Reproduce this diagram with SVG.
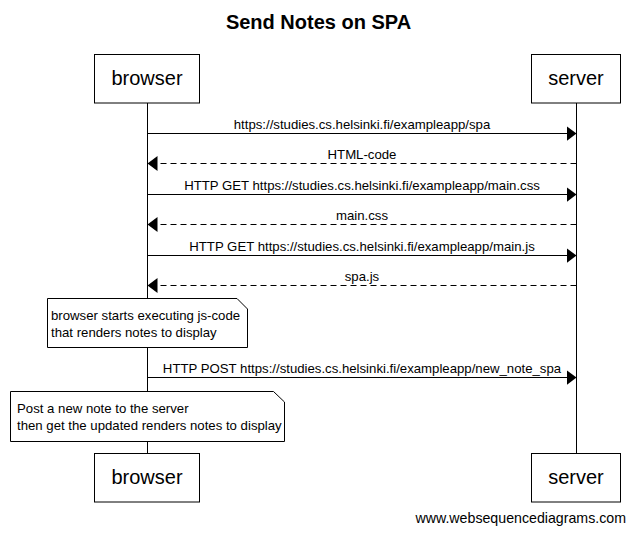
<svg xmlns="http://www.w3.org/2000/svg" width="636" height="536" viewBox="0 0 636 536">
<style>
text{font-family:"Liberation Sans",Arial,sans-serif;fill:#000}
.title{font-size:20px;font-weight:bold;text-anchor:middle}
.actor rect{fill:#fff;stroke:#000;stroke-width:1}
.actor text{font-size:20px;text-anchor:middle}
.life{stroke:#000;stroke-width:1}
.msg{stroke:#000;stroke-width:1;fill:none}
.dash{stroke-dasharray:6,4}
.lbl{font-size:13.2px;text-anchor:middle}
.note path{fill:#fff;stroke:#000;stroke-width:1}
.note text{font-size:13.2px}
.wm{font-size:14.2px;text-anchor:end}
</style>
<defs>
<marker id="ah" markerUnits="userSpaceOnUse" markerWidth="11" markerHeight="16" refX="10" refY="8" orient="auto">
<path d="M0,0.5 L10,8 L0,15.5 Z" fill="#000"/>
</marker>
</defs>
<rect width="636" height="536" fill="#fff"/>
<text class="title" x="318.5" y="29">Send Notes on SPA</text>
<g id="lifelines">
<line class="life" x1="147.5" y1="103" x2="147.5" y2="453"/>
<line class="life" x1="576.5" y1="103" x2="576.5" y2="453"/>
</g>
<g id="browser-top" class="actor"><rect x="94.5" y="54.5" width="105" height="48.5"/><text x="147" y="85">browser</text></g>
<g id="server-top" class="actor"><rect x="531.5" y="54.5" width="89" height="48.5"/><text x="576" y="85">server</text></g>
<g id="connectors">
<line class="msg" x1="147.5" y1="133.5" x2="576.5" y2="133.5" marker-end="url(#ah)"/>
<text class="lbl" x="362" y="129">https://studies.cs.helsinki.fi/exampleapp/spa</text>
<line class="msg dash" x1="576.5" y1="163.5" x2="147.5" y2="163.5" marker-end="url(#ah)"/>
<text class="lbl" x="362" y="159">HTML-code</text>
<line class="msg" x1="147.5" y1="194.5" x2="576.5" y2="194.5" marker-end="url(#ah)"/>
<text class="lbl" x="362" y="190">HTTP GET https://studies.cs.helsinki.fi/exampleapp/main.css</text>
<line class="msg dash" x1="576.5" y1="224.5" x2="147.5" y2="224.5" marker-end="url(#ah)"/>
<text class="lbl" x="362" y="220">main.css</text>
<line class="msg" x1="147.5" y1="255.5" x2="576.5" y2="255.5" marker-end="url(#ah)"/>
<text class="lbl" x="362" y="251">HTTP GET https://studies.cs.helsinki.fi/exampleapp/main.js</text>
<line class="msg dash" x1="576.5" y1="285.5" x2="147.5" y2="285.5" marker-end="url(#ah)"/>
<text class="lbl" x="362" y="281">spa.js</text>
<line class="msg" x1="147.5" y1="377.5" x2="576.5" y2="377.5" marker-end="url(#ah)"/>
<text class="lbl" x="362" y="373">HTTP POST https://studies.cs.helsinki.fi/exampleapp/new_note_spa</text>
</g>
<g id="note1" class="note">
<path d="M47.5,298.5 H237 L247.5,309 V347.5 H47.5 Z"/>
<text x="51" y="320">browser starts executing js-code</text>
<text x="51" y="336.5">that renders notes to display</text>
</g>
<g id="note2" class="note">
<path d="M10.5,391.5 H273.5 L284.5,402 V441.5 H10.5 Z"/>
<text x="17" y="413">Post a new note to the server</text>
<text x="17" y="429.5">then get the updated renders notes to display</text>
</g>
<g id="browser-bottom" class="actor"><rect x="94.5" y="453.5" width="105" height="48.5"/><text x="147" y="484">browser</text></g>
<g id="server-bottom" class="actor"><rect x="531.5" y="453.5" width="89" height="48.5"/><text x="576" y="484">server</text></g>
<text class="wm" x="626" y="523">www.websequencediagrams.com</text>
</svg>
